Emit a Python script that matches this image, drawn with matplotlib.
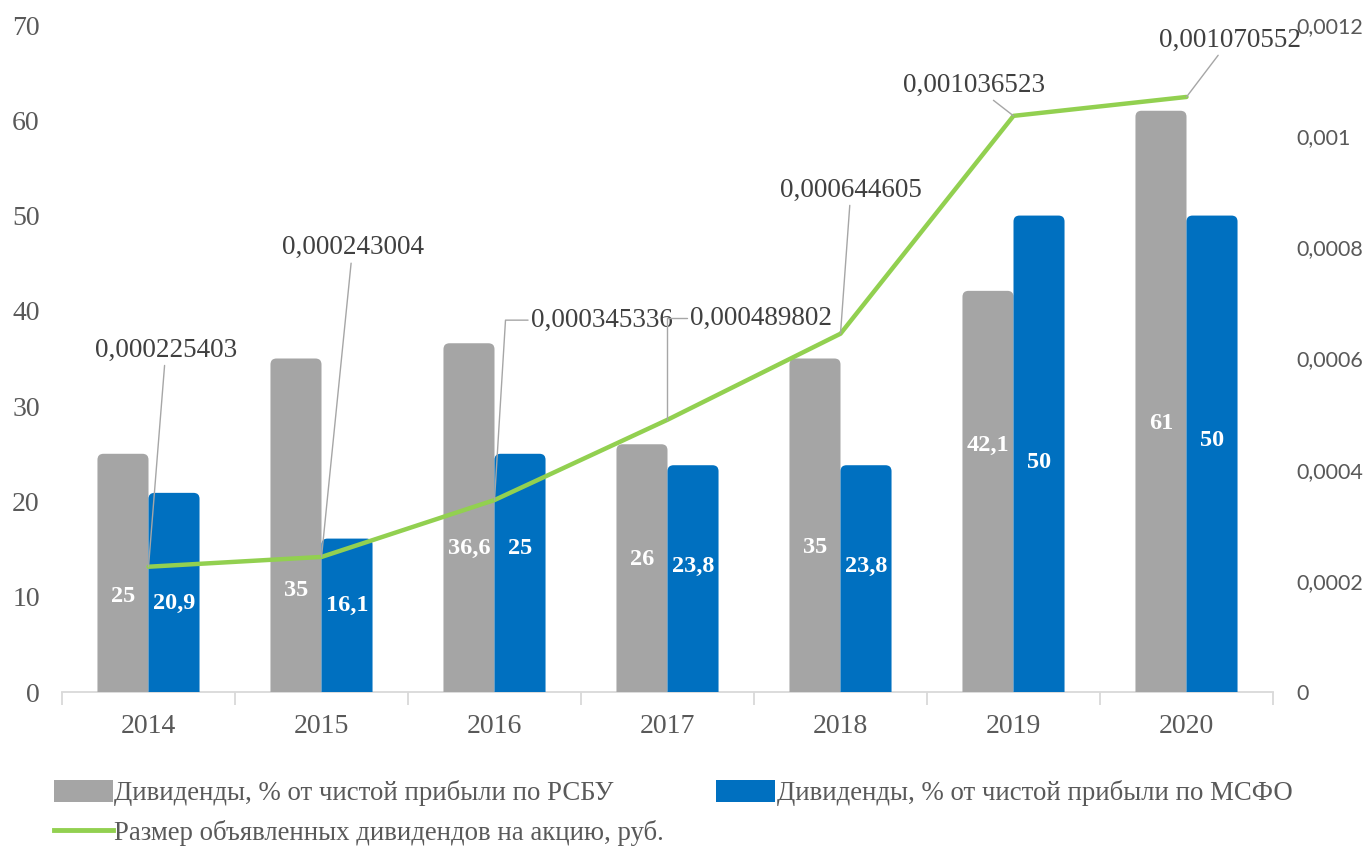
import matplotlib
matplotlib.use('Agg')
import matplotlib.pyplot as plt
from matplotlib.patches import FancyBboxPatch, Patch
from matplotlib.lines import Line2D

# ---------------- data ----------------
years = ['2014', '2015', '2016', '2017', '2018', '2019', '2020']
rsbu = [25, 35, 36.6, 26, 35, 42.1, 61]
msfo = [20.9, 16.1, 25, 23.8, 23.8, 50, 50]
dps = [0.000225403, 0.000243004, 0.000345336, 0.000489802,
       0.000644605, 0.001036523, 0.001070552]
rsbu_labels = ['25', '35', '36,6', '26', '35', '42,1', '61']
msfo_labels = ['20,9', '16,1', '25', '23,8', '23,8', '50', '50']
dps_labels = ['0,000225403', '0,000243004', '0,000345336', '0,000489802',
              '0,000644605', '0,001036523', '0,001070552']
left_ticks = [0, 10, 20, 30, 40, 50, 60, 70]
right_ticks = [0, 0.0002, 0.0004, 0.0006, 0.0008, 0.001, 0.0012]
right_tick_labels = ['0', '0,0002', '0,0004', '0,0006', '0,0008', '0,001', '0,0012']
legend_names = ['Дивиденды, % от чистой прибыли по РСБУ',
                'Дивиденды, % от чистой прибыли по МСФО',
                'Размер объявленных дивидендов на акцию, руб.']

# ---------------- layout / style ----------------
GRAY = '#A5A5A5'
BLUE = '#0070C0'
GREEN = '#92D050'
TICK_C = '#595959'
ANN_C = '#404040'
LEAD_C = '#A6A6A6'
SERIF = ['Liberation Serif', 'DejaVu Serif']
SANS = ['Lato', 'DejaVu Sans']

rsbu_label_y = [10.0, 10.7, 15.1, 13.9, 15.2, 25.9, 28.2]
msfo_label_y = [9.3, 9.1, 15.1, 13.2, 13.2, 24.1, 26.4]
# annotation text centers (x in category units, y in right-axis units)
ann_text_pos = [(0.10, 0.000615), (1.18, 0.000799), (2.62, 0.000669),
                (3.54, 0.000673), (4.06, 0.000903), (4.77, 0.001092),
                (6.25, 0.001173)]
ann_elbow = [False, False, True, True, False, False, False]
ann_angleB = [None, None, 86.5, 90, None, None, None]

W, H = 1365, 846
fig = plt.figure(figsize=(W / 100, H / 100), dpi=100)
ax_l, ax_r, ax_b, ax_t = 62, 1273, 692, 25
ax = fig.add_axes([ax_l / W, 1 - ax_b / H, (ax_r - ax_l) / W, (ax_b - ax_t) / H])
ax2 = ax.twinx()

n = len(years)
x = list(range(n))
bw = 0.295
ax.set_xlim(-0.5, n - 0.5)
ax.set_ylim(0, 70)
ax2.set_ylim(0, 0.0012)

# pixel scale for rounded corners
px_per_x = (ax_r - ax_l) / n
px_per_y = (ax_b - ax_t) / 70
asp = px_per_x / px_per_y
rad = 6 / px_per_x


def rounded_bars(xs, heights, color):
    bars = ax.bar(xs, heights, bw, color=color, zorder=2)
    for b in bars:
        b.set_visible(False)
        p = FancyBboxPatch((b.get_x(), -2), b.get_width(), b.get_height() + 2,
                           boxstyle=f"round,pad=0,rounding_size={rad}",
                           mutation_aspect=asp, fc=color, ec='none', zorder=2)
        ax.add_patch(p)
    return bars


xg = [i - bw / 2 for i in x]
xb = [i + bw / 2 for i in x]
rounded_bars(xg, rsbu, GRAY)
rounded_bars(xb, msfo, BLUE)

for xi, yi, t in zip(xg, rsbu_label_y, rsbu_labels):
    ax.text(xi, yi, t, ha='center', va='center', color='white',
            fontsize=17.5, fontweight='bold', family=SERIF, zorder=3)
for xi, yi, t in zip(xb, msfo_label_y, msfo_labels):
    ax.text(xi, yi, t, ha='center', va='center', color='white',
            fontsize=17.5, fontweight='bold', family=SERIF, zorder=3)

# line on secondary axis
ax2.plot(x, dps, color=GREEN, lw=3.2, solid_capstyle='round', zorder=4)

for i, (t, (tx, ty)) in enumerate(zip(dps_labels, ann_text_pos)):
    if ann_elbow[i]:
        ap = dict(arrowstyle='-', color=LEAD_C, lw=1.0, shrinkA=0, shrinkB=0,
                  relpos=(0, 0.5),
                  connectionstyle=f"angle,angleA=180,angleB={ann_angleB[i]},rad=0")
    else:
        ap = dict(arrowstyle='-', color=LEAD_C, lw=1.0, shrinkA=0, shrinkB=0)
    ax2.annotate(t, xy=(x[i], dps[i]), xytext=(tx, ty), textcoords='data',
                 ha='center', va='center', fontsize=19.5, color=ANN_C,
                 family=SERIF, arrowprops=ap, zorder=5)

# axes styling
for s in ['top', 'right', 'left']:
    ax.spines[s].set_visible(False)
    ax2.spines[s].set_visible(False)
ax2.spines['bottom'].set_visible(False)
ax.spines['bottom'].set_color('#D9D9D9')
ax.spines['bottom'].set_linewidth(1.3)
ax.spines['bottom'].set_zorder(1)

ax.set_yticks(left_ticks)
ax.set_yticklabels([str(v) for v in left_ticks])
ax.tick_params(axis='y', length=0, pad=16, labelsize=20, labelcolor=TICK_C)
for lab in ax.get_yticklabels():
    lab.set_family(SERIF)

ax.set_xticks([i - 0.5 for i in range(n + 1)])
ax.set_xticklabels([''] * (n + 1))
ax.set_xticks(x, minor=True)
ax.set_xticklabels(years, minor=True)
ax.tick_params(axis='x', which='major', length=9, width=1.3, color='#D9D9D9', direction='out')
ax.tick_params(axis='x', which='minor', length=0, pad=16, labelsize=20, labelcolor=TICK_C)
for lab in ax.get_xticklabels(minor=True):
    lab.set_family(SERIF)

ax2.set_yticks(right_ticks)
ax2.set_yticklabels(right_tick_labels)
ax2.tick_params(axis='y', length=0, pad=17, labelsize=15.5, labelcolor=TICK_C)
for lab in ax2.get_yticklabels():
    lab.set_family(SANS)

# legend
handles = [Patch(facecolor=GRAY, edgecolor='none'),
           Line2D([0], [0], color=GREEN, lw=3.5),
           Patch(facecolor=BLUE, edgecolor='none')]
labels = [legend_names[0], legend_names[2], legend_names[1]]
fig.legend(handles, labels, loc='upper left', bbox_to_anchor=(54 / W, 1 - 780 / H),
           ncol=2, frameon=False, borderpad=0, borderaxespad=0,
           handlelength=2.2, handleheight=0.9, handletextpad=0.05,
           columnspacing=1.95, labelspacing=0.5,
           prop={'family': SERIF, 'size': 19.3}, labelcolor=TICK_C)

fig.savefig('out.png', dpi=100)
